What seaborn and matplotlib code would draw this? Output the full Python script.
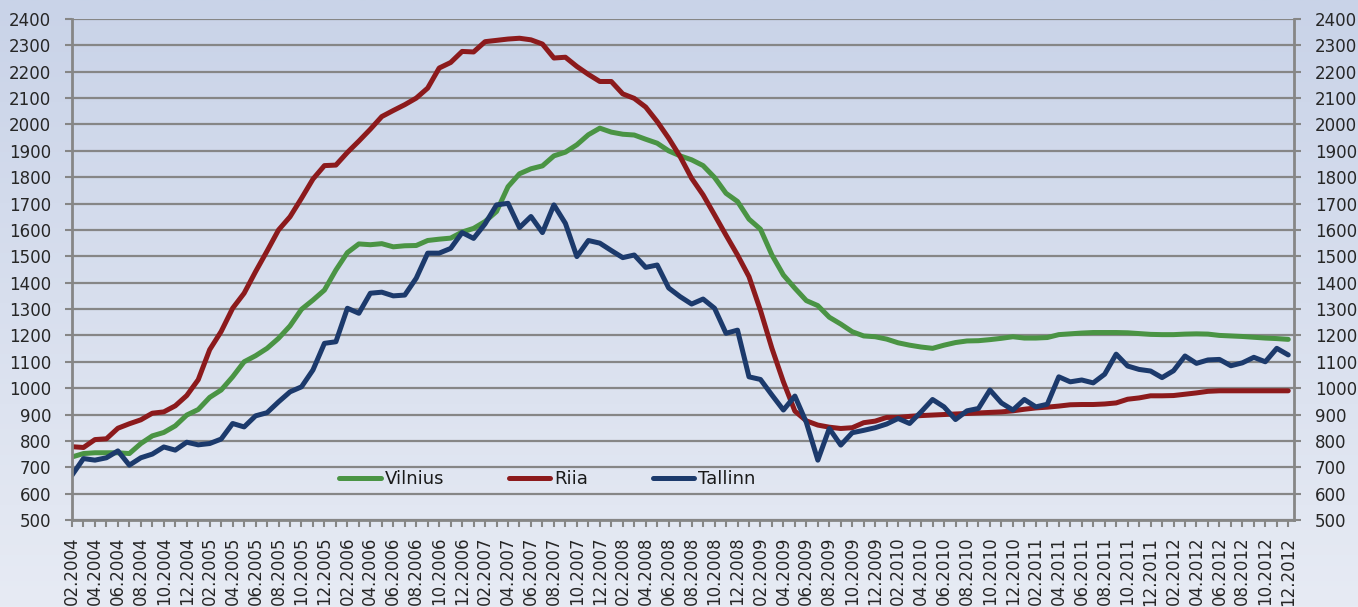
import numpy as np
import pandas as pd
import matplotlib
matplotlib.use('Agg')
import matplotlib.pyplot as plt
import seaborn as sns
from matplotlib.colors import LinearSegmentedColormap

# monthly labels 02.2004 .. 12.2012
months = [f'{m:02d}.{y}' for y in range(2004, 2013) for m in range(1, 13)][1:]

cities = ['Vilnius', 'Riia', 'Tallinn']
colors = ['#4a9444', '#8c1a1c', '#1c3a6c']

vilnius = [739, 752, 755, 755, 755, 752, 790, 819, 832, 857,
           898, 919, 965, 993, 1043, 1100, 1123, 1151, 1189, 1236,
           1299, 1334, 1372, 1448, 1514, 1547, 1544, 1548, 1536, 1540,
           1541, 1560, 1565, 1569, 1592, 1606, 1632, 1670, 1764, 1813,
           1832, 1843, 1881, 1895, 1923, 1961, 1986, 1971, 1963, 1960,
           1944, 1929, 1900, 1881, 1866, 1844, 1799, 1739, 1708, 1641,
           1603, 1505, 1429, 1379, 1332, 1313, 1269, 1243, 1214, 1198,
           1195, 1186, 1172, 1163, 1156, 1151, 1163, 1173, 1179, 1180,
           1184, 1189, 1195, 1190, 1190, 1192, 1203, 1206, 1209, 1211,
           1211, 1211, 1210, 1207, 1204, 1203, 1203, 1205, 1206, 1205,
           1200, 1198, 1196, 1193, 1190, 1188, 1185]

riia = [778, 775, 805, 808, 848, 865, 880, 905, 910, 933,
        972, 1032, 1146, 1215, 1303, 1360, 1442, 1520, 1600, 1650,
        1720, 1793, 1844, 1846, 1894, 1937, 1982, 2030, 2053, 2075,
        2100, 2138, 2214, 2235, 2277, 2275, 2314, 2319, 2324, 2327,
        2321, 2305, 2252, 2255, 2220, 2190, 2163, 2163, 2116, 2099,
        2066, 2011, 1948, 1878, 1796, 1733, 1657, 1580, 1505, 1423,
        1295, 1151, 1024, 913, 876, 860, 852, 847, 850, 869,
        875, 889, 889, 893, 896, 898, 900, 902, 904, 906,
        908, 910, 914, 920, 925, 928, 932, 937, 938, 938,
        940, 944, 958, 963, 971, 971, 972, 977, 982, 988,
        990, 990, 990, 990, 990, 990, 990]

tallinn = [670, 733, 727, 736, 762, 708, 736, 750, 777, 765,
           795, 785, 790, 807, 866, 853, 895, 907, 948, 986,
           1005, 1069, 1170, 1176, 1303, 1284, 1360, 1364, 1350, 1353,
           1417, 1512, 1512, 1530, 1590, 1568, 1623, 1695, 1701, 1609,
           1651, 1590, 1695, 1625, 1499, 1560, 1550, 1522, 1495, 1505,
           1458, 1467, 1380, 1347, 1319, 1338, 1303, 1208, 1220, 1043,
           1033, 974, 917, 970, 870, 727, 847, 784, 831, 840,
           850, 864, 885, 866, 910, 957, 929, 881, 914, 923,
           993, 944, 917, 957, 929, 939, 1043, 1024, 1031, 1020,
           1053, 1129, 1084, 1071, 1065, 1040, 1066, 1122, 1094, 1107,
           1109, 1085, 1096, 1117, 1100, 1151, 1126]

n = len(months)
df = pd.DataFrame({
    'idx': list(range(n)) * 3,
    'value': vilnius + riia + tallinn,
    'city': [c for c in cities for _ in range(n)],
})

sns.set_style('white')
plt.rcParams['font.family'] = ['DejaVu Sans']
plt.rcParams['text.color'] = '#1a1a1a'

fig = plt.figure(figsize=(13.58, 6.07), dpi=100)

# gradient background over the whole figure
bg = fig.add_axes([0, 0, 1, 1])
grad = np.linspace(0, 1, 256).reshape(-1, 1)
cmap = LinearSegmentedColormap.from_list('bg', ['#c9d3e8', '#e7ebf4'])
bg.imshow(grad, aspect='auto', cmap=cmap, extent=[0, 1, 0, 1], origin='upper')
bg.axis('off')

W, H = 1358, 607
ax = fig.add_axes([72 / W, 1 - 520 / H, (1294 - 72) / W, (520 - 19) / H])
ax.set_facecolor('none')

sns.lineplot(data=df, x='idx', y='value', hue='city', hue_order=cities,
             palette=colors, lw=3.6, ax=ax,
             solid_joinstyle='round', solid_capstyle='round')

ax.set_xlim(0, n - 0.5)
ax.set_ylim(500, 2400)
ax.set_yticks(range(500, 2401, 100))
ax.set_xticks(range(0, n, 2))
ax.set_xticklabels(months[::2], rotation=90)
ax.set_xticks(range(n), minor=True)
ax.set_xlabel('')
ax.set_ylabel('')

gray = '#868686'
ax.grid(axis='y', color=gray, lw=1.6)
ax.grid(axis='x', visible=False)
ax.set_axisbelow(True)
for side in ['left', 'right', 'bottom']:
    ax.spines[side].set_color(gray)
    ax.spines[side].set_linewidth(2)
ax.spines['top'].set_visible(False)

ax.tick_params(axis='y', left=True, right=True, labelleft=True, labelright=True,
               length=5, width=1.5, color=gray, pad=10, labelsize=12)
ax.tick_params(axis='x', which='both', bottom=True, length=5, width=1.5,
               color=gray, pad=7, labelsize=12)

handles, labels = ax.get_legend_handles_labels()
ax.legend(handles, labels, loc='center', bbox_to_anchor=(0.389, 0.082), ncol=3,
          frameon=False, fontsize=13, handlelength=2.3, handletextpad=0.2,
          columnspacing=3.6)

fig.savefig('out.png', dpi=100)
